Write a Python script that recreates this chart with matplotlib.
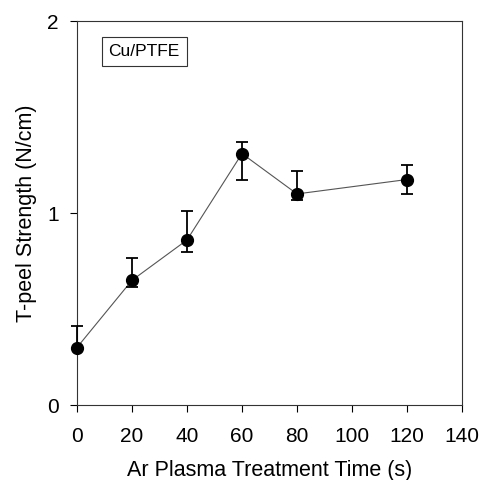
import matplotlib
matplotlib.use("Agg")
from matplotlib import pyplot as plt
import numpy as np

plt.rcParams['font.family'] = ['Liberation Sans', 'DejaVu Sans']

# Ar plasma treatment time (s) vs T-peel strength (N/cm)
time_s = [0, 20, 40, 60, 80, 120]
peel = [0.30, 0.65, 0.86, 1.31, 1.10, 1.175]
err_low = [0.0, 0.035, 0.065, 0.14, 0.03, 0.075]
err_high = [0.11, 0.115, 0.15, 0.06, 0.12, 0.075]

xticks = [0, 20, 40, 60, 80, 100, 120, 140]
yticks = [0, 1, 2]

fig = plt.figure(figsize=(4.81, 4.80), dpi=100)
ax = fig.add_axes([0.160, 0.156, 0.8005, 0.800])

ax.plot(time_s, peel, color='#555555', lw=0.8, zorder=2, clip_on=False)
eb = ax.errorbar(time_s, peel, yerr=[err_low, err_high], fmt='o', color='black',
                 ms=8.5, capsize=4, elinewidth=1.3, capthick=1.3, zorder=3)
for art in eb.lines[1] + eb.lines[2] + (eb.lines[0],):
    art.set_clip_on(False)

ax.set_xlim(0, 140)
ax.set_ylim(0, 2)
ax.set_xticks(xticks)
ax.set_yticks(yticks)
ax.tick_params(direction='out', length=5, width=0.8, labelsize=15)
ax.tick_params(axis='x', pad=11)
ax.tick_params(axis='y', pad=8)
for s in ax.spines.values():
    s.set_linewidth(0.8)
    s.set_color('#333333')

ax.set_xlabel('Ar Plasma Treatment Time (s)', fontsize=15.5, labelpad=10)
ax.set_ylabel('T-peel Strength (N/cm)', fontsize=15.5, labelpad=7)

ax.text(0.082, 0.921, 'Cu/PTFE', transform=ax.transAxes, fontsize=12.5,
        va='center', ha='left',
        bbox=dict(boxstyle='square,pad=0.4', fc='white', ec='#333333', lw=0.8))

fig.savefig('out.png', dpi=100)
